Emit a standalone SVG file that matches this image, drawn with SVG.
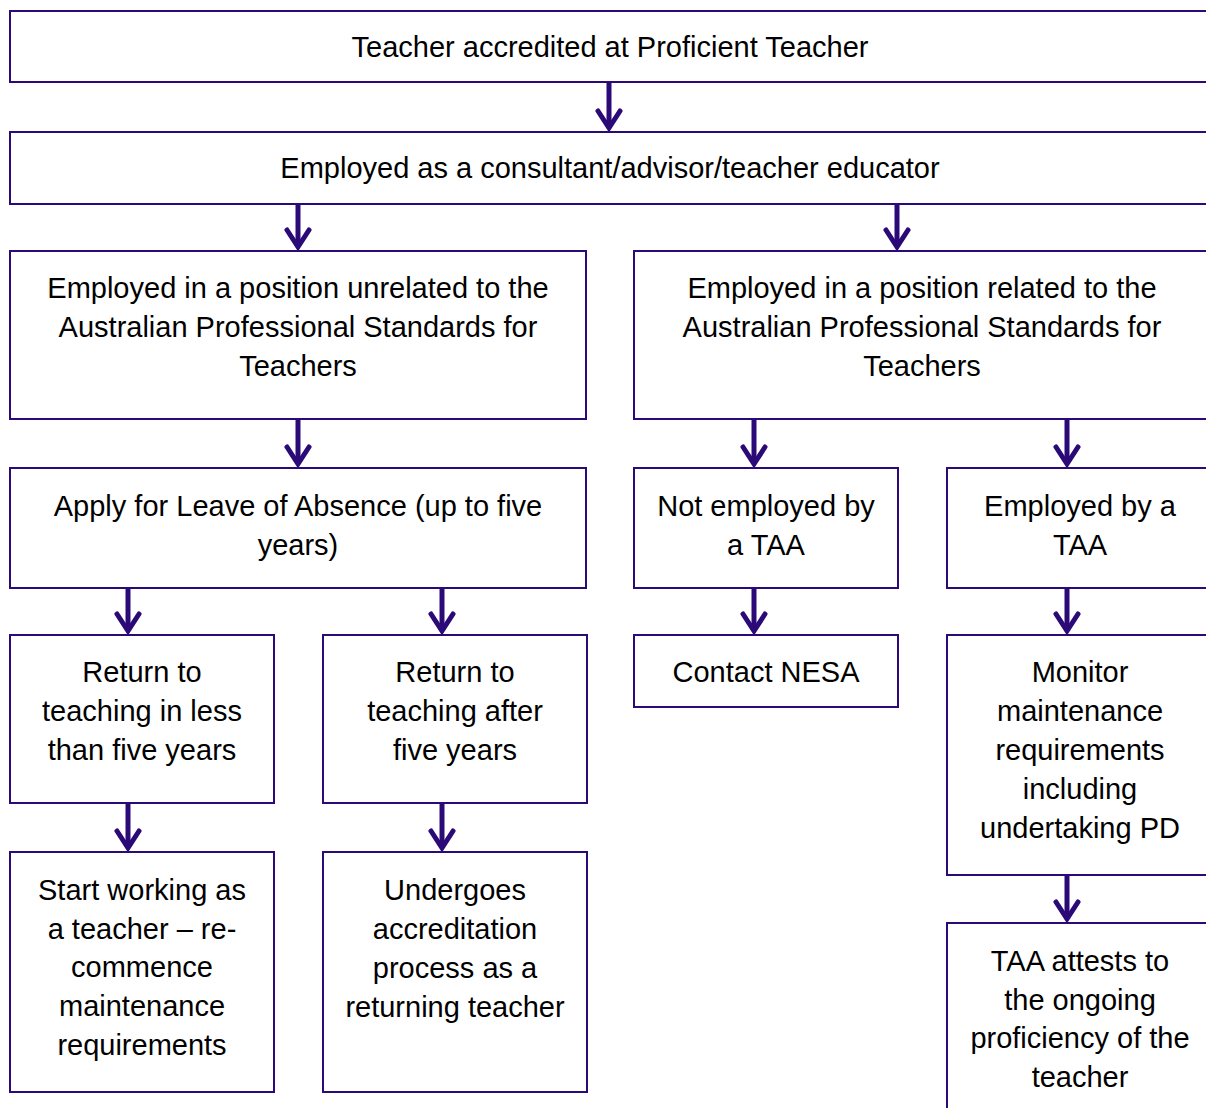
<svg xmlns="http://www.w3.org/2000/svg" width="1206" height="1108" viewBox="0 0 1206 1108">
  <style>
    .box { fill: #ffffff; stroke: #2b0a78; stroke-width: 2; }
    .lbl { font-family: "Liberation Sans", Arial, sans-serif; font-size: 29px; fill: #000000; text-anchor: middle; }
    .shaft { stroke: #2b0a78; stroke-width: 5; fill: none; }
    .head { stroke: #2b0a78; stroke-width: 5; fill: none; stroke-linecap: round; stroke-linejoin: miter; }
  </style>
  <defs>
    <!-- open chevron arrowhead, tip at origin -->
    <path id="chev" class="head" d="M -11 -20 L 0 -3 L 11 -20"/>
  </defs>
  <rect width="1206" height="1108" fill="#ffffff"/>

  <g id="connectors">
    <line class="shaft" x1="609" y1="83" x2="609" y2="127"/><use href="#chev" x="609" y="131"/>
    <line class="shaft" x1="298" y1="205" x2="298" y2="246"/><use href="#chev" x="298" y="250"/>
    <line class="shaft" x1="897" y1="205" x2="897" y2="246"/><use href="#chev" x="897" y="250"/>
    <line class="shaft" x1="298" y1="420" x2="298" y2="463"/><use href="#chev" x="298" y="467"/>
    <line class="shaft" x1="754" y1="420" x2="754" y2="463"/><use href="#chev" x="754" y="467"/>
    <line class="shaft" x1="1067" y1="420" x2="1067" y2="463"/><use href="#chev" x="1067" y="467"/>
    <line class="shaft" x1="128" y1="589" x2="128" y2="630"/><use href="#chev" x="128" y="634"/>
    <line class="shaft" x1="442" y1="589" x2="442" y2="630"/><use href="#chev" x="442" y="634"/>
    <line class="shaft" x1="754" y1="589" x2="754" y2="630"/><use href="#chev" x="754" y="634"/>
    <line class="shaft" x1="1067" y1="589" x2="1067" y2="630"/><use href="#chev" x="1067" y="634"/>
    <line class="shaft" x1="128" y1="804" x2="128" y2="847"/><use href="#chev" x="128" y="851"/>
    <line class="shaft" x1="442" y1="804" x2="442" y2="847"/><use href="#chev" x="442" y="851"/>
    <line class="shaft" x1="1067" y1="876" x2="1067" y2="918"/><use href="#chev" x="1067" y="922"/>
  </g>

  <g id="accredited">
    <rect class="box" x="10" y="11" width="1200" height="71"/>
    <text class="lbl" x="610" y="57">Teacher accredited at Proficient Teacher</text>
  </g>
  <g id="employed-consultant">
    <rect class="box" x="10" y="132" width="1200" height="72"/>
    <text class="lbl" x="610" y="178">Employed as a consultant/advisor/teacher educator</text>
  </g>
  <g id="unrelated-position">
    <rect class="box" x="10" y="251" width="576" height="168"/>
    <text class="lbl" x="298" y="298">Employed in a position unrelated to the</text>
    <text class="lbl" x="298" y="337">Australian Professional Standards for</text>
    <text class="lbl" x="298" y="376">Teachers</text>
  </g>
  <g id="related-position">
    <rect class="box" x="634" y="251" width="578" height="168"/>
    <text class="lbl" x="922" y="298">Employed in a position related to the</text>
    <text class="lbl" x="922" y="337">Australian Professional Standards for</text>
    <text class="lbl" x="922" y="376">Teachers</text>
  </g>
  <g id="leave-of-absence">
    <rect class="box" x="10" y="468" width="576" height="120"/>
    <text class="lbl" x="298" y="516">Apply for Leave of Absence (up to five</text>
    <text class="lbl" x="298" y="555">years)</text>
  </g>
  <g id="not-employed-taa">
    <rect class="box" x="634" y="468" width="264" height="120"/>
    <text class="lbl" x="766" y="516">Not employed by</text>
    <text class="lbl" x="766" y="555">a TAA</text>
  </g>
  <g id="employed-taa">
    <rect class="box" x="947" y="468" width="266" height="120"/>
    <text class="lbl" x="1080" y="516">Employed by a</text>
    <text class="lbl" x="1080" y="555">TAA</text>
  </g>
  <g id="return-less">
    <rect class="box" x="10" y="635" width="264" height="168"/>
    <text class="lbl" x="142" y="682">Return to</text>
    <text class="lbl" x="142" y="721">teaching in less</text>
    <text class="lbl" x="142" y="760">than five years</text>
  </g>
  <g id="return-after">
    <rect class="box" x="323" y="635" width="264" height="168"/>
    <text class="lbl" x="455" y="682">Return to</text>
    <text class="lbl" x="455" y="721">teaching after</text>
    <text class="lbl" x="455" y="760">five years</text>
  </g>
  <g id="contact-nesa">
    <rect class="box" x="634" y="635" width="264" height="72"/>
    <text class="lbl" x="766" y="682">Contact NESA</text>
  </g>
  <g id="monitor">
    <rect class="box" x="947" y="635" width="266" height="240"/>
    <text class="lbl" x="1080" y="682">Monitor</text>
    <text class="lbl" x="1080" y="721">maintenance</text>
    <text class="lbl" x="1080" y="760">requirements</text>
    <text class="lbl" x="1080" y="799">including</text>
    <text class="lbl" x="1080" y="838">undertaking PD</text>
  </g>
  <g id="start-working">
    <rect class="box" x="10" y="852" width="264" height="240"/>
    <text class="lbl" x="142" y="900">Start working as</text>
    <text class="lbl" x="142" y="939">a teacher – re-</text>
    <text class="lbl" x="142" y="977">commence</text>
    <text class="lbl" x="142" y="1016">maintenance</text>
    <text class="lbl" x="142" y="1055">requirements</text>
  </g>
  <g id="undergoes">
    <rect class="box" x="323" y="852" width="264" height="240"/>
    <text class="lbl" x="455" y="900">Undergoes</text>
    <text class="lbl" x="455" y="939">accreditation</text>
    <text class="lbl" x="455" y="978">process as a</text>
    <text class="lbl" x="455" y="1017">returning teacher</text>
  </g>
  <g id="taa-attests">
    <rect class="box" x="947" y="923" width="266" height="200"/>
    <text class="lbl" x="1080" y="971">TAA attests to</text>
    <text class="lbl" x="1080" y="1010">the ongoing</text>
    <text class="lbl" x="1080" y="1048">proficiency of the</text>
    <text class="lbl" x="1080" y="1087">teacher</text>
  </g>
</svg>
